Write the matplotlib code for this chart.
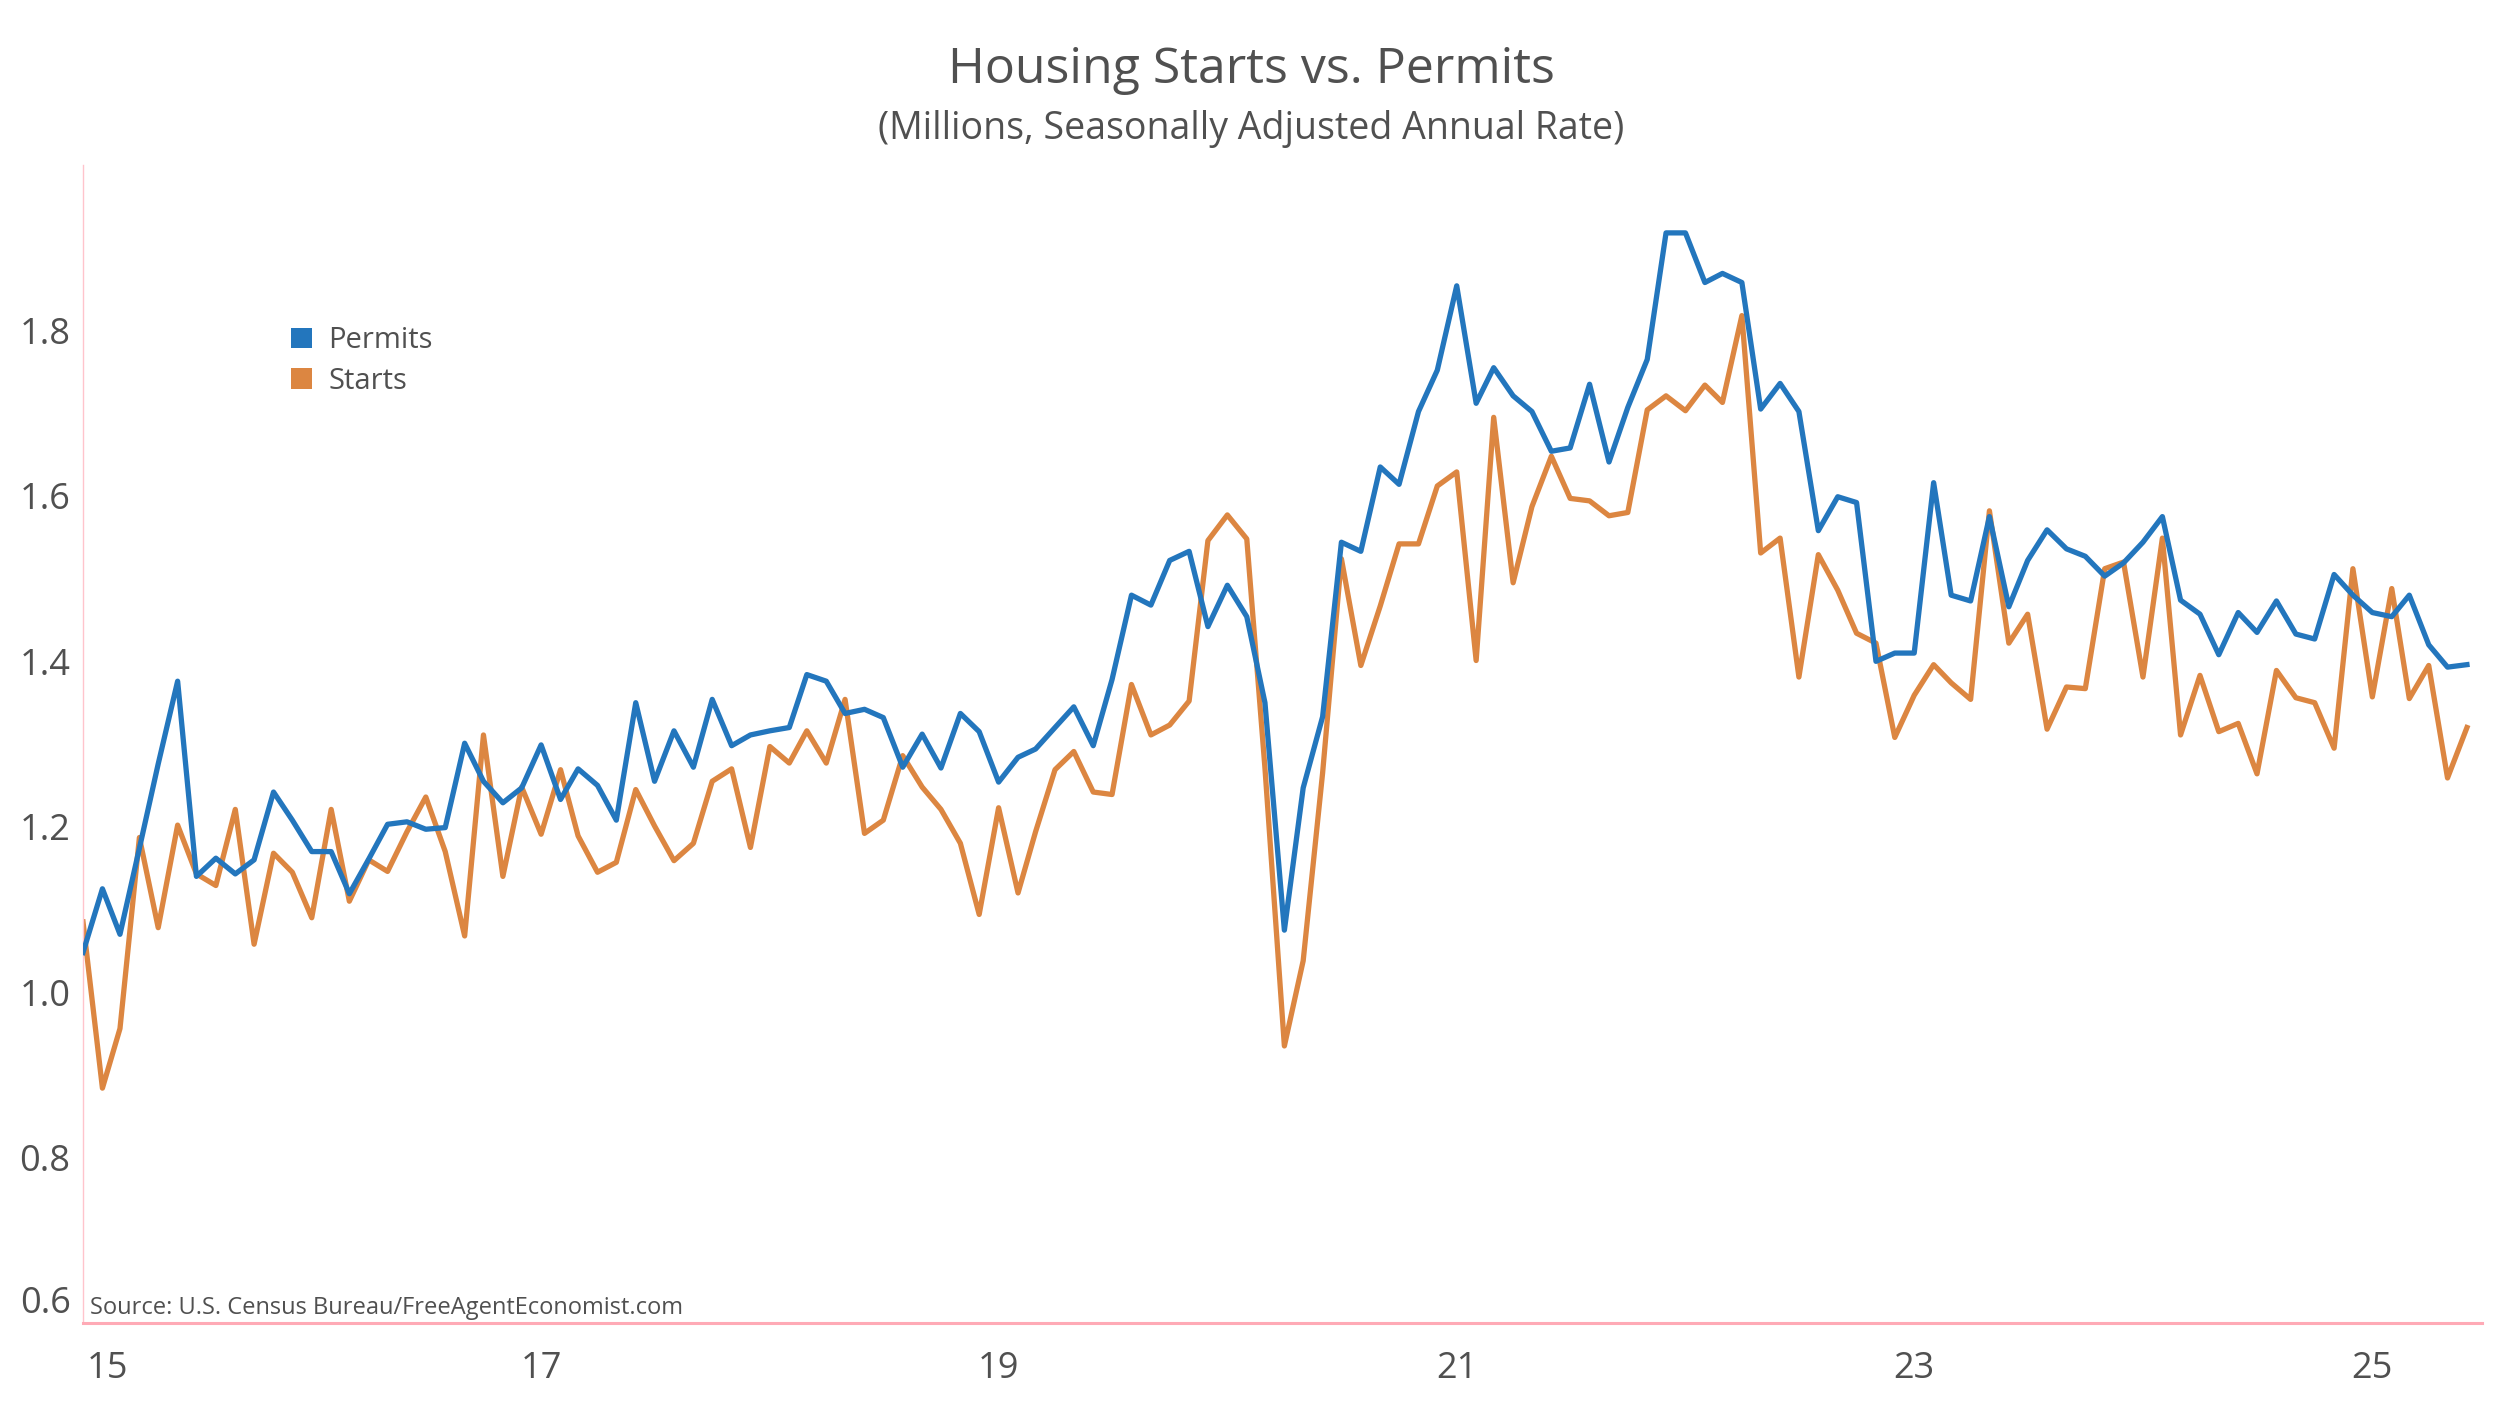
import matplotlib
matplotlib.use("Agg")
import matplotlib.pyplot as plt
import matplotlib.transforms as mtransforms
from matplotlib.patches import Patch
import pandas as pd

plt.rcParams['font.family'] = ['Open Sans', 'DejaVu Sans']

# ---------------- data (millions, SAAR), monthly Jan 2015 - Jun 2025 ----------------
start_month = "2015-01-01"
n_months = 126

permits = [
    1.048, 1.125, 1.070, 1.174, 1.276, 1.376, 1.140, 1.162, 1.143, 1.160, 1.242, 1.208,
    1.170, 1.170, 1.119, 1.161, 1.203, 1.206, 1.197, 1.199, 1.301, 1.255, 1.229, 1.247,
    1.299, 1.233, 1.270, 1.250, 1.208, 1.350, 1.255, 1.316, 1.272, 1.354, 1.298, 1.311,
    1.316, 1.320, 1.384, 1.376, 1.337, 1.342, 1.332, 1.272, 1.312, 1.271, 1.337, 1.315,
    1.254, 1.284, 1.294, 1.320, 1.345, 1.298, 1.378, 1.480, 1.468, 1.522, 1.533, 1.442,
    1.492, 1.454, 1.350, 1.075, 1.247, 1.333, 1.544, 1.533, 1.635, 1.614, 1.702, 1.752,
    1.854, 1.712, 1.755, 1.721, 1.702, 1.654, 1.658, 1.735, 1.641, 1.707, 1.765, 1.918,
    1.918, 1.858, 1.869, 1.858, 1.705, 1.736, 1.702, 1.558, 1.599, 1.592, 1.400, 1.410,
    1.410, 1.616, 1.480, 1.473, 1.575, 1.466, 1.522, 1.559, 1.536, 1.527, 1.503, 1.519,
    1.544, 1.575, 1.474, 1.457, 1.408, 1.459, 1.435, 1.473, 1.433, 1.427, 1.505, 1.480,
    1.459, 1.454, 1.480, 1.420, 1.393, 1.396,
]

starts = [
    1.085, 0.884, 0.956, 1.187, 1.078, 1.202, 1.143, 1.129, 1.221, 1.058, 1.168, 1.145,
    1.090, 1.221, 1.110, 1.160, 1.146, 1.194, 1.236, 1.170, 1.068, 1.311, 1.140, 1.248,
    1.191, 1.269, 1.189, 1.145, 1.157, 1.245, 1.201, 1.159, 1.180, 1.255, 1.270, 1.175,
    1.297, 1.277, 1.316, 1.277, 1.354, 1.192, 1.208, 1.286, 1.248, 1.221, 1.180, 1.094,
    1.223, 1.120, 1.194, 1.269, 1.291, 1.242, 1.239, 1.372, 1.311, 1.323, 1.352, 1.546,
    1.577, 1.548, 1.271, 0.935, 1.038, 1.265, 1.524, 1.395, 1.467, 1.542, 1.542, 1.612,
    1.629, 1.401, 1.695, 1.495, 1.587, 1.648, 1.597, 1.594, 1.576, 1.580, 1.704, 1.721,
    1.703, 1.734, 1.713, 1.818, 1.531, 1.549, 1.381, 1.529, 1.486, 1.434, 1.422, 1.308,
    1.359, 1.396, 1.374, 1.354, 1.582, 1.422, 1.457, 1.318, 1.369, 1.367, 1.512, 1.520,
    1.381, 1.549, 1.311, 1.383, 1.315, 1.325, 1.264, 1.389, 1.356, 1.350, 1.295, 1.512,
    1.357, 1.488, 1.355, 1.395, 1.259, 1.320,
]

x_tick_years = [2015, 2017, 2019, 2021, 2023, 2025]
x_tick_labels = ["15", "17", "19", "21", "23", "25"]
y_ticks = [0.6, 0.8, 1.0, 1.2, 1.4, 1.6, 1.8]
y_tick_labels = ["0.6", "0.8", "1.0", "1.2", "1.4", "1.6", "1.8"]

series_names = ["Permits", "Starts"]
colors = ["#2376bd", "#dc8641"]

title = "Housing Starts vs. Permits"
subtitle = "(Millions, Seasonally Adjusted Annual Rate)"
source = "Source: U.S. Census Bureau/FreeAgentEconomist.com"

# ---------------- figure ----------------
dates = pd.date_range(start_month, periods=n_months, freq="MS")

fig = plt.figure(figsize=(25, 14.06), dpi=100)
ax = fig.add_axes([0.0332, 0.059, 0.9596, 0.8236])

ax.plot(dates, permits, color=colors[0], lw=3.8, solid_joinstyle="round", zorder=3)
ax.plot(dates, starts, color=colors[1], lw=3.8, solid_joinstyle="round", zorder=2)

ax.set_ylim(0.6, 2.0)
ax.set_xlim(dates[0], pd.Timestamp("2025-06-25"))

ax.set_yticks(y_ticks)
ax.set_yticklabels(y_tick_labels)
ax.set_xticks([pd.Timestamp(f"{y}-01-01") for y in x_tick_years])
ax.set_xticklabels(x_tick_labels)

ax.tick_params(axis="both", length=0, labelsize=26, colors="#505050")
ax.tick_params(axis="x", pad=20)
ax.tick_params(axis="y", pad=9)

for s in ["top", "right"]:
    ax.spines[s].set_visible(False)
ax.spines["left"].set_color("#ffc4cc")
ax.spines["left"].set_linewidth(1.0)
ax.spines["bottom"].set_color("#ffaab6")
ax.spines["bottom"].set_linewidth(2.2)

# edge label nudges (labels kept inside the plot frame as in the original)
lab0 = ax.get_yticklabels()[0]
lab0.set_transform(lab0.get_transform() + mtransforms.ScaledTranslation(0, 0.24, fig.dpi_scale_trans))
xl0 = ax.get_xticklabels()[0]
xl0.set_transform(xl0.get_transform() + mtransforms.ScaledTranslation(0.24, 0, fig.dpi_scale_trans))

fig.text(0.5006, 0.9503, title, ha="center", va="center", fontsize=36, color="#505050")
fig.text(0.5006, 0.9082, subtitle, ha="center", va="center", fontsize=27, color="#505050")

ax.text(0.003, 0.003, source, transform=ax.transAxes, ha="left", va="bottom",
        fontsize=17, color="#505050")

handles = [Patch(facecolor=c, edgecolor="none", label=n) for c, n in zip(colors, series_names)]
leg = ax.legend(handles=handles, loc="upper left", bbox_to_anchor=(0.1165, 0.768),
                bbox_transform=fig.transFigure, frameon=False, fontsize=21,
                handlelength=0.72, handleheight=0.72, handletextpad=0.55,
                labelspacing=0.4, borderaxespad=0, borderpad=0)
for t in leg.get_texts():
    t.set_color("#505050")

fig.savefig("out.png", dpi=100, facecolor="white")
